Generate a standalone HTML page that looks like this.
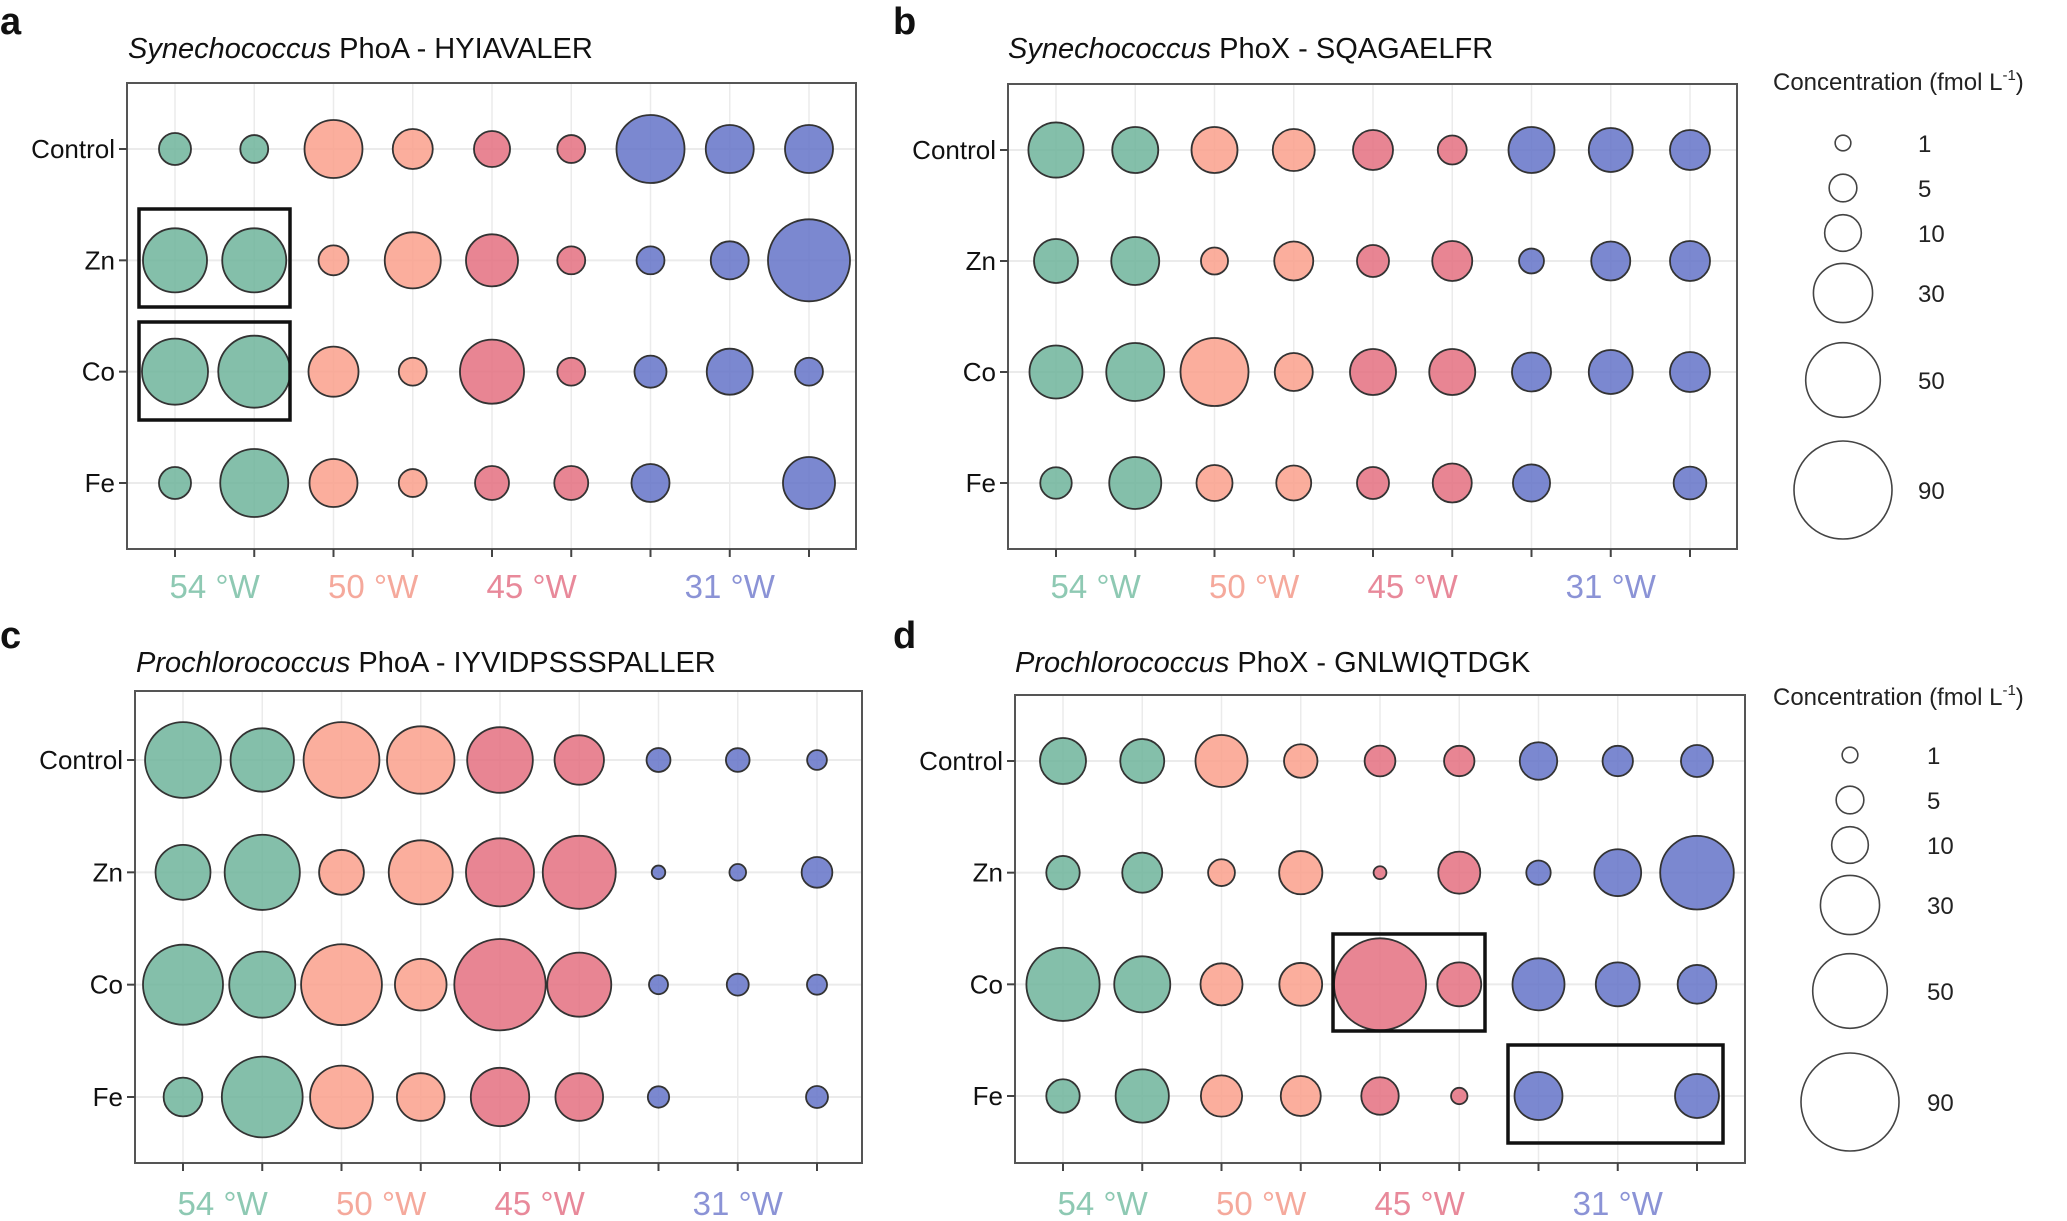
<!DOCTYPE html>
<html><head><meta charset="utf-8">
<style>
html,body{margin:0;padding:0;background:#fff;}
svg{display:block;font-family:"Liberation Sans",sans-serif;}
</style></head>
<body>
<svg id="fig" width="2067" height="1221" viewBox="0 0 2067 1221" xmlns="http://www.w3.org/2000/svg"></svg>
<script>
const rowLabels = ["Control","Zn","Co","Fe"];
const colGroups = ["g","g","s","s","r","r","b","b","b"];
const groupLabels = ["54 °W","50 °W","45 °W","31 °W"];
const legendValues = [1,5,10,30,50,90];

const valuesA = [
 [7.2,5.1,28.7,12.3,9.6,5.1,40.9,18.7,18.7],
 [35.8,35.8,6.1,26.6,22.5,5.1,5.1,10.9,61.4],
 [38.3,46.3,20.6,5.1,35.8,5.1,7.2,17,5.1],
 [7.2,40.9,18.7,5.1,8.3,8.3,10.9,null,22.5]];
const valuesB = [
 [25.7,17,17,13.8,12.3,5.6,17,15.3,12.3],
 [15.3,18.7,4.7,11.6,7.2,12.3,3.8,11.6,12.3],
 [23.5,28.7,40.9,10.9,17,17,11.6,15.3,12.3],
 [6.9,22.5,9.6,8.9,7.2,11.6,10.3,null,7.6]];
const valuesC = [
 [51.8,35,51.8,40.1,37.8,20,3.4,3.3,2],
 [25.5,50.9,16,35.8,40.9,47.7,0.6,1.2,6.5],
 [58.2,38.3,59.5,22.1,77.5,35.8,1.8,2.7,2.1],
 [11.4,59.5,34.3,18.4,29.2,18.4,2.5,null,2.7]];
const valuesD = [
 [17,15.3,22.5,8,6.5,6.3,10.5,6.3,7.2],
 [8,12.3,4.6,14.7,0.5,13.8,3.6,17.7,48.6],
 [48,26.6,13.8,14.4,78.6,15.3,22.5,15.3,11.4],
 [8,23.7,13.2,12.3,10.5,1.15,18.7,null,15.3]];

const fills = {g:"rgba(110,180,155,0.85)", s:"rgba(250,160,140,0.85)", r:"rgba(228,112,128,0.85)", b:"rgba(100,115,200,0.85)"};
const labelCols = ["#8ec9b3","#f5a99c","#e8899a","#8b93d6"];
const NS="http://www.w3.org/2000/svg";
const svg=document.getElementById('fig');
function el(tag,attrs,parent){const e=document.createElementNS(NS,tag);for(const k in attrs)e.setAttribute(k,attrs[k]);(parent||svg).appendChild(e);return e;}
function rOf(v){return 3+4.85*Math.sqrt(v);}

const panels=[
 {id:"a",vals:valuesA,x0:127,x1:856,y0:83,y1:549,c0:175,c8:809,r0:149,r3:483,title:["Synechococcus"," PhoA - HYIAVALER"],tx:128,ty:58,lx:0,ly:34,xl:586,
  boxes:[[139,209,290,307],[139,322,290,420]]},
 {id:"b",vals:valuesB,x0:1008,x1:1737,y0:84,y1:549,c0:1056,c8:1690,r0:150,r3:483,title:["Synechococcus"," PhoX - SQAGAELFR"],tx:1008,ty:58,lx:893,ly:34,xl:586,boxes:[]},
 {id:"c",vals:valuesC,x0:135,x1:862,y0:691,y1:1163,c0:183,c8:817,r0:760,r3:1097,title:["Prochlorococcus"," PhoA - IYVIDPSSSPALLER"],tx:136,ty:672,lx:0,ly:648,xl:1203,boxes:[]},
 {id:"d",vals:valuesD,x0:1015,x1:1745,y0:695,y1:1163,c0:1063,c8:1697,r0:761,r3:1096,title:["Prochlorococcus"," PhoX - GNLWIQTDGK"],tx:1015,ty:672,lx:893,ly:648,xl:1203,
  boxes:[[1333,934,1485,1031],[1508,1045,1723,1143]]}
];

panels.forEach(p=>{
 const g=el('g',{});
 
 
 const xs=i=>p.c0+(p.c8-p.c0)*i/8;
 const ys=j=>p.r0+(p.r3-p.r0)*j/3;
 const lt=el('text',{x:p.lx,y:p.ly,'font-size':38,'font-weight':'bold',fill:'#111'},g);
 lt.textContent=p.id;
 
 
 const t=el('text',{x:p.tx,y:p.ty,'font-size':29,fill:'#111'},g);
 
 
 const t1=el('tspan',{'font-style':'italic'},t);t1.textContent=p.title[0];
 const t2=el('tspan',{},t);t2.textContent=p.title[1];
 el('rect',{x:p.x0,y:p.y0,width:p.x1-p.x0,height:p.y1-p.y0,fill:'#fff'},g);
 for(let i=0;i<9;i++){const l=el('line',{x1:xs(i),x2:xs(i),y1:p.y0,y2:p.y1,stroke:'#ebebeb','stroke-width':1.5},g);}
 for(let j=0;j<4;j++){const l=el('line',{x1:p.x0,x2:p.x1,y1:ys(j),y2:ys(j),stroke:'#ebebeb','stroke-width':2},g);}
 p.vals.forEach((row,j)=>row.forEach((v,i)=>{
   if(v==null)return;
   const c=el('circle',{cx:xs(i),cy:ys(j),r:rOf(v),fill:fills[colGroups[i]],stroke:'#333','stroke-width':1.8},g);
   
   
 }));
 const fr=el('rect',{x:p.x0,y:p.y0,width:p.x1-p.x0,height:p.y1-p.y0,fill:'none',stroke:'#555','stroke-width':2},g);
 
 
 rowLabels.forEach((lab,j)=>{
   el('line',{x1:p.x0-8,x2:p.x0,y1:ys(j),y2:ys(j),stroke:'#444','stroke-width':2},g);
   const tx=el('text',{x:p.x0-12,y:ys(j)+9,'font-size':26,'text-anchor':'end',fill:'#111'},g);
   tx.textContent=lab;
   
   
 });
 for(let i=0;i<9;i++)el('line',{x1:xs(i),x2:xs(i),y1:p.y1,y2:p.y1+8,stroke:'#444','stroke-width':2},g);
 const gpos=[(xs(0)+xs(1))/2,(xs(2)+xs(3))/2,(xs(4)+xs(5))/2,xs(7)];
 groupLabels.forEach((lab,k)=>{
   const tx=el('text',{x:gpos[k],y:p.xl+12,'font-size':33,'text-anchor':'middle',fill:labelCols[k]},g);
   tx.textContent=lab;
   
   
 });
 p.boxes.forEach(b=>{
   const r=el('rect',{x:b[0],y:b[1],width:b[2]-b[0],height:b[3]-b[1],fill:'none',stroke:'#111','stroke-width':3.5},g);
   
   
 });
});

const legends=[{tx:1773,ty:90,cx:1843,lx:1918,ys:[143,188,233,293,380,490]},
               {tx:1773,ty:705,cx:1850,lx:1927,ys:[755,800,845,905,991,1102]}];
legends.forEach((L,k)=>{
 const g=el('g',{});
 
 
 const t=el('text',{x:L.tx,y:L.ty,'font-size':24,fill:'#222'},g);
 
 
 t.textContent='Concentration (fmol L';
 const sup=el('tspan',{'font-size':15,dy:-10},t);sup.textContent='-1';
 const cl=el('tspan',{dy:10},t);cl.textContent=')';
 legendValues.forEach((v,i)=>{
   const c=el('circle',{cx:L.cx,cy:L.ys[i],r:rOf(v),fill:'none',stroke:'#444','stroke-width':1.6},g);
   
   
   const tx=el('text',{x:L.lx,y:L.ys[i]+9,'font-size':24,fill:'#222'},g);
   tx.textContent=v;
   
   
 });
});
</script>
</body></html>
